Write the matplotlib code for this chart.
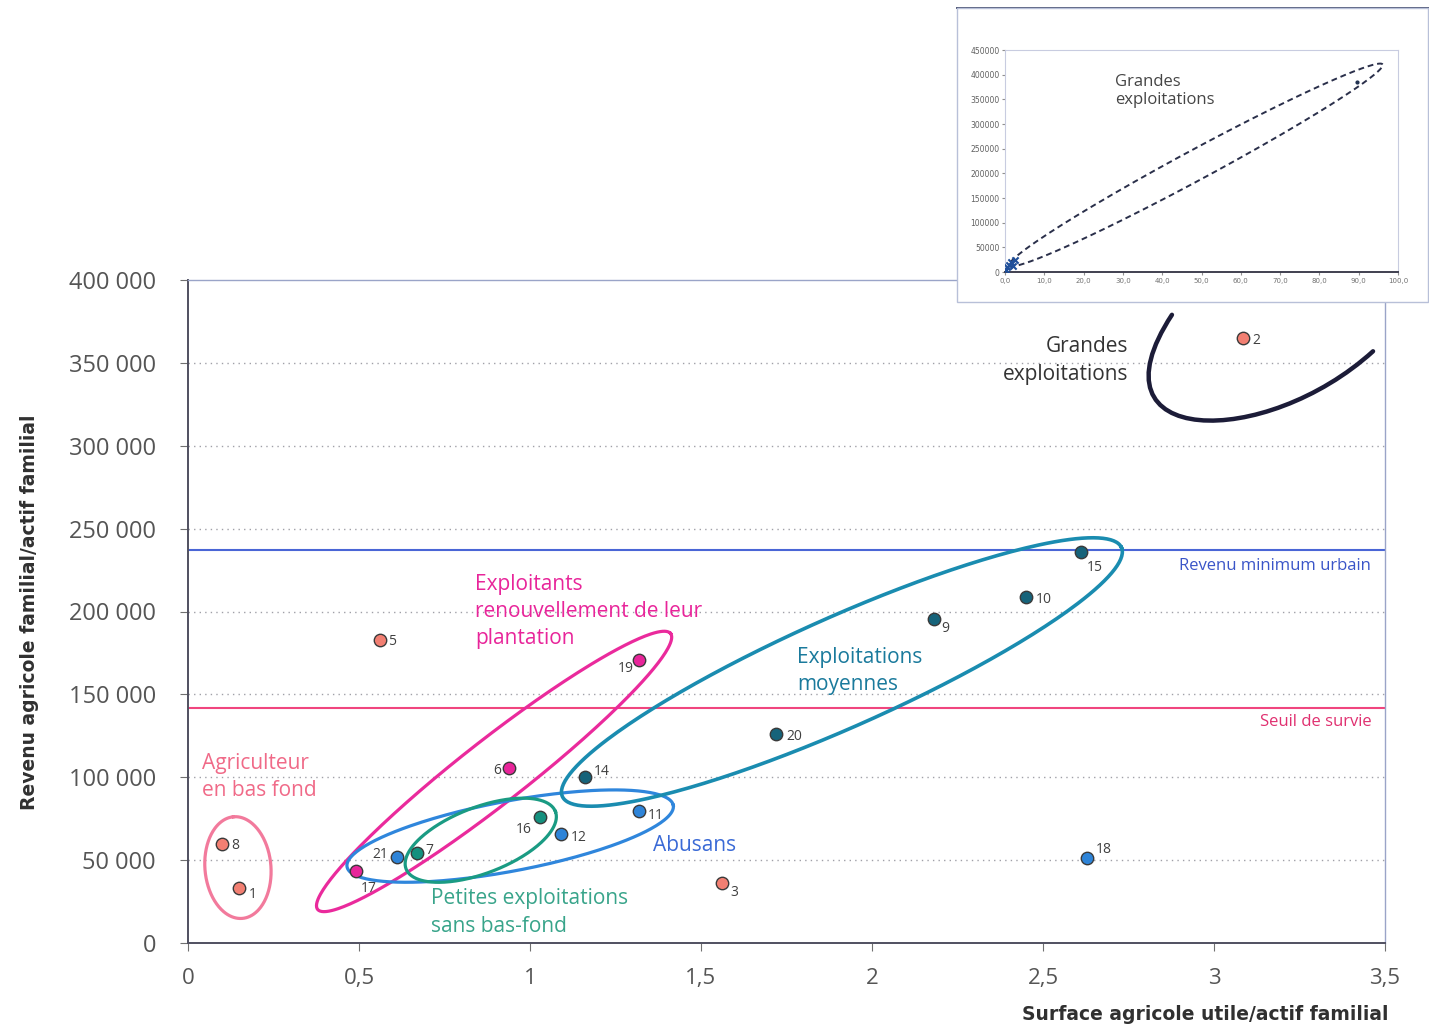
import numpy as np
import matplotlib
matplotlib.use('Agg')
import matplotlib.pyplot as plt
from matplotlib.patches import Rectangle, PathPatch
from matplotlib.path import Path

# Points: id, surface/actif, revenu/actif, group
point_ids = ['1', '8', '5', '3', '2', '17', '6', '19', '21', '12', '11', '18', '7', '16', '14', '20', '9', '10', '15']
surface = [0.15, 0.10, 0.56, 1.56, 3.085, 0.49, 0.94, 1.32, 0.61, 1.09, 1.32, 2.63, 0.67, 1.03, 1.16, 1.72, 2.18, 2.45, 2.61]
revenu = [33000, 60000, 183000, 36000, 365000, 43500, 105500, 170500, 52000, 66000, 79500, 51500, 54500, 76000, 100000, 126000, 195500, 208500, 236000]
groups = ['bf', 'bf', 'bf', 'bf', 'bf', 'ren', 'ren', 'ren', 'abu', 'abu', 'abu', 'abu', 'pet', 'pet', 'moy', 'moy', 'moy', 'moy', 'moy']

group_colors = {'bf': '#f27f72', 'ren': '#e8259a', 'abu': '#2e84d8', 'pet': '#14907e', 'moy': '#16637a'}

y_ticks = [0, 50000, 100000, 150000, 200000, 250000, 300000, 350000, 400000]
y_ticklabels = ['0', '50 000', '100 000', '150 000', '200 000', '250 000', '300 000', '350 000', '400 000']
x_ticks = [0, 0.5, 1, 1.5, 2, 2.5, 3, 3.5]
x_ticklabels = ['0', '0,5', '1', '1,5', '2', '2,5', '3', '3,5']

revenu_min_urbain = 237000
seuil_survie = 141500

# inset data
inset_x = [0.3, 0.6, 1.0, 1.5, 2.0, 2.6, 89.5]
inset_y = [5000, 10000, 15000, 20000, 12000, 25000, 385000]
inset_yticks = [0, 50000, 100000, 150000, 200000, 250000, 300000, 350000, 400000, 450000]
inset_xticks = [0, 10, 20, 30, 40, 50, 60, 70, 80, 90, 100]

W, H, DPI = 1429, 1032, 100
fig = plt.figure(figsize=(W / DPI, H / DPI), dpi=DPI)
fig.patch.set_facecolor('white')

ax_pos = [188 / W, 1 - 943 / H, (1385 - 188) / W, (943 - 280) / H]
ax = fig.add_axes(ax_pos)
ax.set_xlim(0, 3.5)
ax.set_ylim(0, 400000)

# pixels per data unit, used to draw ellipses in screen-like space
sx = ax_pos[2] * W / 3.5
sy = ax_pos[3] * H / 400000


def ellipse(axis, cx, cy, a, b, angle, color, lw=2.3, ls='-', kx=sx, ky=sy):
    t = np.radians(np.linspace(0, 360, 300))
    th = np.radians(angle)
    u = a * np.cos(t)
    v = b * np.sin(t)
    px = u * np.cos(th) - v * np.sin(th)
    py = u * np.sin(th) + v * np.cos(th)
    axis.plot(cx + px / kx, cy + py / ky, color=color, lw=lw, ls=ls, zorder=2)


# grid
for yt in y_ticks[1:-1]:
    ax.axhline(yt, color='#a0a0a8', lw=1.0, ls=(0, (1, 3)), zorder=0)

ax.axhline(revenu_min_urbain, color='#4a66d6', lw=1.5, zorder=1)
ax.axhline(seuil_survie, color='#f0457e', lw=1.5, zorder=1)
ax.text(3.46, revenu_min_urbain - 4500, 'Revenu minimum urbain', color='#3a55c8', fontsize=12,
        ha='right', va='top', family='Open Sans')
ax.text(3.46, seuil_survie - 3500, 'Seuil de survie', color='#e03070', fontsize=12,
        ha='right', va='top', family='Open Sans')

# group ellipses
ellipse(ax, 0.146, 45500, 51, 33, 95, '#f27a9c')
ellipse(ax, 0.895, 103500, 224, 32, 38, '#ea2a9c')
ellipse(ax, 0.942, 64500, 166, 35, 10.7, '#2f86dc')
ellipse(ax, 0.856, 62000, 80, 33, 21, '#1a9b83')
ellipse(ax, 1.912, 163500, 306, 55, 24, '#1a8cb0', lw=2.6)

# grandes exploitations arc
verts = [(2.877, 379000), (2.62, 298000), (3.15, 298000), (3.465, 357000)]
arc = PathPatch(Path(verts, [Path.MOVETO, Path.CURVE4, Path.CURVE4, Path.CURVE4]),
                fill=False, edgecolor='#1c1c38', lw=3.2, capstyle='round', zorder=2)
ax.add_patch(arc)

# points
for pid, x, y, g in zip(point_ids, surface, revenu, groups):
    ax.scatter(x, y, s=80, color=group_colors[g], edgecolor='#3a3a3a', linewidth=1.0, zorder=4)

label_offsets = {'1': (9, -6), '8': (9, -2), '5': (9, -2), '3': (9, -9), '2': (9, -2),
                 '17': (5, -18), '6': (-16, -2), '19': (-22, -8), '21': (-24, 2),
                 '12': (10, -4), '11': (8, -4), '18': (8, 8), '7': (8, 2), '16': (-24, -12),
                 '14': (9, 6), '20': (10, -2), '9': (8, -10), '10': (10, -2), '15': (6, -16)}
for pid, x, y in zip(point_ids, surface, revenu):
    dx, dy = label_offsets[pid]
    ax.annotate(pid, (x, y), xytext=(dx, dy), textcoords='offset pixels', fontsize=10,
                color='#404040', va='center', ha='left', family='Open Sans', zorder=5)

# group labels
lab = dict(fontsize=15, linespacing=1.4, va='center', ha='left', family='Open Sans')
ax.text(0.04, 100000, 'Agriculteur\nen bas fond', color='#f06a88', **lab)
ax.text(0.84, 200000, 'Exploitants\nrenouvellement de leur\nplantation', color='#e8259a', **lab)
ax.text(1.78, 164000, 'Exploitations\nmoyennes', color='#1a7a9c', **lab)
ax.text(1.36, 59000, 'Abusans', color='#3a6ad6', **lab)
ax.text(0.71, 18500, 'Petites exploitations\nsans bas-fond', color='#38a48a', **lab)
ax.text(2.75, 351500, 'Grandes\nexploitations', color='#333333', fontsize=15, linespacing=1.4,
        va='center', ha='right', family='Open Sans')

# axes styling
ax.set_xticks(x_ticks)
ax.set_xticklabels(x_ticklabels, fontsize=16, color='#555555', family='Open Sans')
ax.set_yticks(y_ticks)
ax.set_yticklabels(y_ticklabels, fontsize=17, color='#555555', family='Open Sans')
ax.tick_params(axis='y', length=6, color='#707070', pad=17)
ax.tick_params(axis='x', length=6, color='#707070', pad=12)
for side in ['left', 'bottom']:
    ax.spines[side].set_color('#505060')
    ax.spines[side].set_linewidth(1.4)
for side in ['top', 'right']:
    ax.spines[side].set_color('#9aa4c8')
    ax.spines[side].set_linewidth(1.0)

fig.text(1388 / W, 1 - 1014 / H, 'Surface agricole utile/actif familial', fontsize=13.5, fontweight='bold',
         color='#303030', ha='right', va='center', family='DejaVu Sans')
fig.text(30 / W, 1 - 612 / H, 'Revenu agricole familial/actif familial', fontsize=13.5, fontweight='bold',
         color='#303030', ha='center', va='center', rotation=90, family='DejaVu Sans')

# inset
box = Rectangle((957 / W, 1 - 302 / H), (1428 - 957) / W, (302 - 8) / H, transform=fig.transFigure,
                facecolor='white', edgecolor='#b8c0d8', lw=1.0, zorder=5)
fig.patches.append(box)
fig.lines.append(plt.Line2D([957 / W, 1428 / W], [1 - 8 / H, 1 - 8 / H], transform=fig.transFigure,
                            color='#505878', lw=1.4))

in_pos = [1005 / W, 1 - 272 / H, 393 / W, 222 / H]
ins = fig.add_axes(in_pos)
ins.set_zorder(6)
ins.set_xlim(0, 100)
ins.set_ylim(0, 450000)
isx = in_pos[2] * W / 100
isy = in_pos[3] * H / 450000
ins.scatter(inset_x[:-1], inset_y[:-1], marker='x', s=20, color='#1f4f9a', lw=1.5, zorder=3)
ins.scatter(inset_x[-1:], inset_y[-1:], s=4, color='#203050', zorder=3)
ellipse(ins, 48.6, 217000, 212, 15, 28.3, '#2a2f4a', lw=1.4, ls=(0, (3, 2)), kx=isx, ky=isy)
ins.text(28, 367000, 'Grandes\nexploitations', fontsize=12, color='#454545', linespacing=1.15,
         va='center', ha='left', family='Open Sans')
ins.set_xticks(inset_xticks)
ins.set_xticklabels(['%d,0' % v for v in inset_xticks], fontsize=5, color='#707070')
ins.set_yticks(inset_yticks)
ins.set_yticklabels([str(v) for v in inset_yticks], fontsize=5.5, color='#606060')
ins.tick_params(length=2, color='#909090', pad=2)
ins.spines['bottom'].set_color('#404050')
ins.spines['bottom'].set_linewidth(1.4)
for side in ['top', 'right', 'left']:
    ins.spines[side].set_color('#c8cce0')
    ins.spines[side].set_linewidth(0.8)

fig.savefig('out.png', dpi=DPI)
